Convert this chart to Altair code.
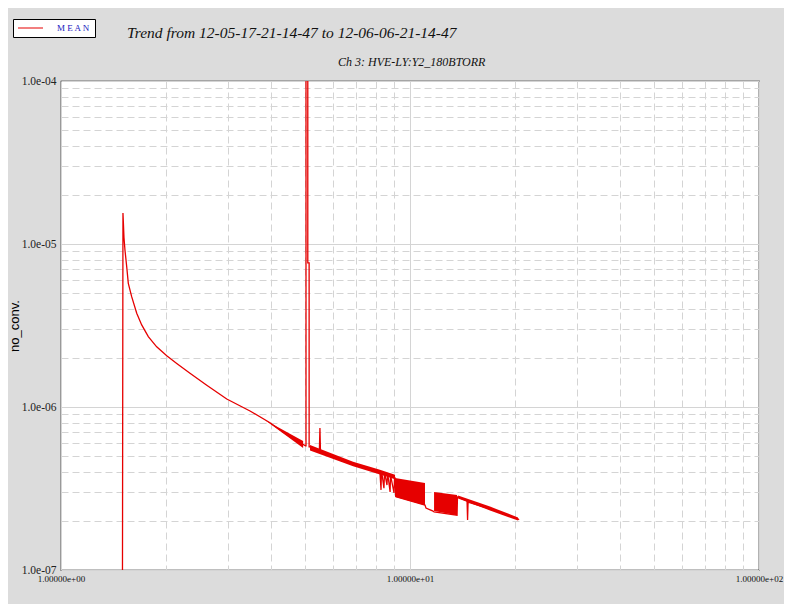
import altair as alt
import pandas as pd

# ---- data -------------------------------------------------------------------
series_name = "MEAN"
line_x = [1.50, 1.505, 1.51, 1.515, 1.525, 1.543, 1.559, 1.594, 1.648, 1.703,
          1.779, 1.880, 2.009, 2.146, 2.342, 2.616, 2.985, 3.48, 3.97, 4.53,
          5.02, 5.035, 5.035, 5.095, 5.095, 5.14, 5.14, 5.17, 5.34, 5.50,
          5.52, 5.54, 5.90, 6.87, 8.20, 8.26, 8.28, 8.31, 8.42, 8.45,
          8.48, 8.59, 8.62, 8.65, 8.77, 8.79, 8.82, 9.00, 9.03, 9.06,
          9.12, 11.04, 11.11, 11.64, 11.72, 13.64, 13.68, 14.57, 14.62, 14.67,
          16.95, 20.39, 20.53]
line_y = [8e-8, 1.55e-5, 1.31e-5, 1.10e-5, 9.19e-6, 7.23e-6, 5.74e-6, 4.75e-6, 3.76e-6, 3.19e-6,
          2.70e-6, 2.34e-6, 2.06e-6, 1.85e-6, 1.61e-6, 1.36e-6, 1.12e-6, 9.45e-7, 8.00e-7, 6.55e-7,
          5.77e-7, 5.77e-7, 2e-4, 2e-4, 7.65e-6, 7.65e-6, 5.69e-7, 5.69e-7, 5.45e-7, 5.45e-7,
          7.43e-7, 5.30e-7, 5.08e-7, 4.41e-7, 3.99e-7, 3.10e-7, 3.95e-7, 3.90e-7, 3.18e-7, 3.88e-7,
          3.85e-7, 3.32e-7, 3.80e-7, 3.78e-7, 3.01e-7, 3.72e-7, 3.70e-7, 2.97e-7, 3.67e-7, 3.67e-7,
          2.81e-7, 2.50e-7, 2.40e-7, 2.30e-7, 2.27e-7, 2.17e-7, 2.81e-7, 2.65e-7, 2.03e-7, 2.61e-7,
          2.37e-7, 2.06e-7, 2.03e-7]

# noisy bands (upper / lower envelopes)
band_id = ["n1", "n1", "n2", "n2", "n2", "n2", "b1", "b1", "b2", "b2", "n3", "n3", "n3"]
band_x = [3.84, 4.94, 5.17, 6.87, 8.20, 9.06, 9.06, 11.04, 11.72, 13.64, 13.73, 16.95, 20.39]
band_top = [8.32e-7, 6.18e-7, 5.85e-7, 4.62e-7, 4.12e-7, 3.84e-7, 3.67e-7, 3.42e-7, 3.01e-7, 2.88e-7,
            2.86e-7, 2.45e-7, 2.10e-7]
band_bottom = [8.32e-7, 5.60e-7, 5.40e-7, 4.33e-7, 3.86e-7, 3.60e-7, 2.81e-7, 2.50e-7, 2.30e-7, 2.17e-7,
               2.75e-7, 2.32e-7, 2.01e-7]

x_ticks = [1, 2, 3, 4, 5, 6, 7, 8, 9, 10, 20, 30, 40, 50, 60, 70, 80, 90, 100]
y_ticks = [1e-7, 2e-7, 3e-7, 4e-7, 5e-7, 6e-7, 7e-7, 8e-7, 9e-7,
           1e-6, 2e-6, 3e-6, 4e-6, 5e-6, 6e-6, 7e-6, 8e-6, 9e-6,
           1e-5, 2e-5, 3e-5, 4e-5, 5e-5, 6e-5, 7e-5, 8e-5, 9e-5, 1e-4]

title_text = "Trend from 12-05-17-21-14-47 to 12-06-06-21-14-47"
subtitle_text = "Ch 3: HVE-LY:Y2_180BTORR"
y_title = "no_conv."

# ---- tables -----------------------------------------------------------------
df_line = pd.DataFrame({"x": line_x, "y": line_y, "i": list(range(len(line_x))),
                        "series": [series_name] * len(line_x)})
df_band = pd.DataFrame({"band": band_id, "x": band_x, "y": band_top, "y2": band_bottom})

RED = "#e60000"
GRID = "#d4d4d4"
SERIF = "Liberation Serif"
major = "abs(log(datum.value)/LN10 - round(log(datum.value)/LN10)) < 0.001"

x_scale = alt.Scale(type="log", domain=[1, 100], nice=False)
y_scale = alt.Scale(type="log", domain=[1e-7, 1e-4], nice=False)

x_axis = alt.Axis(
    values=x_ticks, ticks=False, domain=False, labelFlush=False, labelOverlap=False,
    labelExpr=f"{major} ? replace(format(datum.value, '.5e'), 'e+', 'e+0') : ''",
    labelFont=SERIF, labelFontSize=9, labelColor="#111", labelPadding=4,
    grid=True, gridColor=GRID,
    gridDash={"condition": {"test": major, "value": []}, "value": [7, 4]},
)
y_axis = alt.Axis(
    values=y_ticks, ticks=False, domain=False, labelFlush=False, labelOverlap=False,
    labelExpr=f"{major} ? replace(format(datum.value, '.1e'), 'e-', 'e-0') : ''",
    labelFont=SERIF, labelFontSize=11.5, labelColor="#222", labelPadding=5,
    grid=True, gridColor=GRID,
    gridDash={"condition": {"test": major, "value": []}, "value": [7, 4]},
    titleFont="Liberation Sans", titleFontSize=13, titleFontWeight="normal",
    titleColor="#000", titleX=-43, titleY=244.5, titleAngle=-90,
    titleBaseline="alphabetic", titleAlign="center",
)

X = alt.X("x:Q", scale=x_scale, axis=x_axis, title=None)
Y = alt.Y("y:Q", scale=y_scale, axis=y_axis, title=y_title)

bands = alt.Chart(df_band).mark_area(clip=True, color=RED, opacity=1).encode(
    x=X, y=Y, y2="y2:Q", detail="band:N")

line = alt.Chart(df_line).mark_line(clip=True, strokeWidth=1.3).encode(
    x=X, y=Y, order="i:Q",
    color=alt.Color("series:N", scale=alt.Scale(domain=[series_name], range=[RED]),
                    legend=alt.Legend(
                        orient="none", legendX=-48, legendY=-62, title=None,
                        fillColor="white", strokeColor="black", padding=4,
                        symbolType="stroke", symbolSize=625, symbolStrokeWidth=1.2,
                        clipHeight=10,
                        labelOffset=13, labelFont=SERIF, labelFontSize=9,
                        labelColor="#2020c0",
                        labelExpr="join(split(datum.label, ''), ' ')")))

title_layer = alt.Chart(pd.DataFrame({"t": [title_text]})).mark_text(
    align="left", baseline="alphabetic", font=SERIF, fontStyle="italic",
    fontSize=15.5, color="#111").encode(x=alt.value(66), y=alt.value(-43), text="t:N")
subtitle_layer = alt.Chart(pd.DataFrame({"t": [subtitle_text]})).mark_text(
    align="left", baseline="alphabetic", font=SERIF, fontStyle="italic",
    fontSize=12, color="#111").encode(x=alt.value(277), y=alt.value(-15), text="t:N")

chart = alt.layer(bands, line, title_layer, subtitle_layer).properties(
    width=698, height=489,
    autosize=alt.AutoSizeParams(type="none"),
    padding={"left": 53, "top": 73, "right": 25, "bottom": 34},
).configure(background="#dcdcdc").configure_view(
    fill="white", stroke="black", strokeWidth=1.2)

chart.save("out.html", embed_options={"renderer": "svg", "actions": False})
